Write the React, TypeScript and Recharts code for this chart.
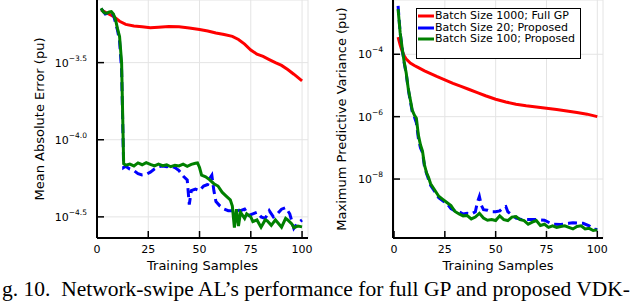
import React from "react";
import { LineChart, Line, XAxis, YAxis, CartesianGrid } from "recharts";

// All y values are log10 of the metric (plot uses a log axis in the paper)

// ─── Mean absolute error ────────────────────────────────────────────────────

const maeFullGpX = [2, 5, 8, 11, 14, 18, 22, 26, 30, 35, 40, 45, 50, 54, 58, 62, 66, 69, 72, 75, 78, 81, 84, 87, 90, 93, 96, 100];
const maeFullGp = [-3.158, -3.18, -3.2, -3.232, -3.252, -3.262, -3.268, -3.274, -3.27, -3.266, -3.268, -3.275, -3.285, -3.295, -3.308, -3.318, -3.33, -3.35, -3.38, -3.418, -3.445, -3.46, -3.48, -3.5, -3.518, -3.545, -3.575, -3.618];

const maeB20X = [2, 4, 6, 8, 10, 11, 12, 13, 14, 16, 18, 20, 22, 24, 26, 28, 30, 32, 34, 36, 38, 40, 42, 44, 45, 46, 48, 50, 52, 54, 55, 56, 57, 58, 60, 62, 64, 66, 68, 70, 72, 74, 76, 78, 80, 82, 84, 86, 88, 90, 92, 94, 96, 98, 100];
const maeB20 = [-3.15, -3.185, -3.175, -3.19, -3.29, -3.36, -3.55, -4.18, -4.172, -4.19, -4.2, -4.22, -4.228, -4.225, -4.21, -4.19, -4.175, -4.17, -4.175, -4.17, -4.18, -4.2, -4.235, -4.26, -4.42, -4.33, -4.32, -4.33, -4.3, -4.29, -4.25, -4.23, -4.33, -4.4, -4.43, -4.45, -4.46, -4.46, -4.455, -4.46, -4.45, -4.49, -4.48, -4.47, -4.5, -4.51, -4.46, -4.5, -4.48, -4.45, -4.44, -4.48, -4.575, -4.54, -4.52];

const maeB100X = [2, 3, 4, 5, 6, 7, 8, 9, 10, 11, 12, 13, 14, 16, 18, 20, 22, 24, 26, 28, 30, 32, 34, 36, 38, 40, 42, 44, 46, 48, 49, 50, 51, 53, 55, 57, 59, 61, 63, 65, 66, 67, 68, 69, 70, 71, 72, 73, 75, 76, 78, 80, 82, 83, 85, 87, 88, 90, 92, 93, 95, 96, 98, 100];
const maeB100 = [-3.147, -3.17, -3.18, -3.178, -3.172, -3.17, -3.185, -3.22, -3.28, -3.33, -3.5, -4.155, -4.165, -4.158, -4.17, -4.15, -4.162, -4.148, -4.16, -4.17, -4.158, -4.168, -4.162, -4.175, -4.165, -4.17, -4.158, -4.172, -4.16, -4.152, -4.15, -4.18, -4.23, -4.24, -4.26, -4.285, -4.3, -4.34, -4.365, -4.39, -4.43, -4.57, -4.45, -4.56, -4.47, -4.49, -4.51, -4.48, -4.5, -4.53, -4.52, -4.567, -4.52, -4.525, -4.555, -4.52, -4.535, -4.567, -4.51, -4.52, -4.545, -4.57, -4.56, -4.565];

// ─── Maximum predictive variance ────────────────────────────────────────────

const varFullGpX = [2, 3, 4, 5, 6, 8, 10, 12, 15, 18, 21, 25, 29, 33, 37, 41, 45, 50, 55, 60, 65, 70, 75, 80, 85, 90, 95, 100];
const varFullGp = [-3.45, -3.7, -3.9, -4.05, -4.15, -4.28, -4.36, -4.43, -4.53, -4.62, -4.71, -4.82, -4.93, -5.03, -5.13, -5.23, -5.33, -5.44, -5.53, -5.6, -5.65, -5.69, -5.73, -5.77, -5.82, -5.87, -5.92, -6.0];

const varB20X = [2, 3, 4, 5, 6, 7, 8, 9, 10, 11, 12, 13, 14, 15, 16, 18, 20, 22, 24, 26, 28, 30, 32, 34, 36, 38, 40, 41, 42, 43, 44, 46, 48, 50, 52, 54, 55, 56, 58, 60, 63, 66, 70, 74, 78, 82, 86, 88, 90, 93, 96, 98, 100];
const varB20 = [-2.45, -3.3, -3.82, -4.27, -4.62, -5.12, -5.5, -5.85, -6.0, -6.2, -6.7, -7.0, -7.15, -7.6, -7.82, -8.2, -8.4, -8.6, -8.7, -8.78, -8.95, -9.02, -9.05, -9.12, -9.1, -9.12, -9.05, -8.75, -8.56, -8.85, -8.98, -9.0, -9.05, -9.05, -9.02, -8.9, -8.88, -9.05, -9.15, -9.25, -9.3, -9.3, -9.3, -9.32, -9.45, -9.46, -9.42, -9.4, -9.41, -9.42, -9.5, -9.6, -9.62];

const varB100X = [2, 3, 4, 5, 6, 7, 8, 9, 10, 11, 12, 13, 14, 15, 16, 17, 18, 20, 22, 24, 26, 28, 30, 32, 34, 36, 38, 40, 42, 44, 46, 48, 50, 52, 54, 56, 58, 60, 62, 64, 66, 68, 70, 72, 74, 76, 78, 80, 82, 84, 86, 88, 90, 92, 94, 96, 98, 100];
const varB100 = [-2.55, -3.3, -3.8, -4.25, -4.6, -5.1, -5.45, -5.8, -5.95, -6.05, -6.6, -6.9, -7.1, -7.55, -7.8, -7.95, -8.15, -8.35, -8.55, -8.65, -8.75, -8.85, -9.04, -9.12, -9.18, -9.17, -9.28, -9.22, -9.1, -9.25, -9.32, -9.3, -9.33, -9.18, -9.3, -9.33, -9.22, -9.2, -9.3, -9.33, -9.45, -9.38, -9.33, -9.49, -9.45, -9.55, -9.5, -9.55, -9.52, -9.5, -9.55, -9.6, -9.52, -9.5, -9.6, -9.58, -9.65, -9.63];

const xTicks = [0, 25, 50, 75, 100];
const maeTicks = [-4.5, -4.0, -3.5];
const varTicks = [-8, -6, -4];

const seriesNames = ["Batch Size 1000; Full GP", "Batch Size 20; Proposed", "Batch Size 100; Proposed"];
const colors = ["#ff0000", "#0000ff", "#008000"];

const zip = (xs: number[], ys: number[]) => xs.map((x, i) => ({ x, y: ys[i] }));

const FONT = "'DejaVu Sans', sans-serif";

function XTick({ x, y, payload }: any) {
  return (
    <g>
      <line x1={x} y1={y} x2={x} y2={y - 7} stroke="#000" strokeWidth={1.5} />
      <text x={x} y={y + 15} textAnchor="middle" fontSize={11} fontFamily={FONT} fill="#000">
        {payload.value}
      </text>
    </g>
  );
}

function makeYTick(decimals: number) {
  return function YTick({ x, y, payload }: any) {
    const exp = payload.value.toFixed(decimals).replace("-", "\u2212");
    return (
      <g>
        <line x1={x} y1={y} x2={x + 7} y2={y} stroke="#000" strokeWidth={1.5} />
        <text x={x - 10} y={y + 4} textAnchor="end" fontFamily={FONT} fill="#000">
          <tspan fontSize={11}>10</tspan>
          <tspan fontSize={7.5} dy={-6}>{exp}</tspan>
        </text>
      </g>
    );
  };
}

const MaeTick = makeYTick(1);
const VarTick = makeYTick(0);

interface PanelProps {
  left: number;
  yAxisWidth: number;
  rightMargin: number;
  xDomain: [number, number];
  yDomain: [number, number];
  yTicks: number[];
  tick: any;
  series: { x: number; y: number }[][];
}

function Panel({ left, yAxisWidth, rightMargin, xDomain, yDomain, yTicks, tick, series }: PanelProps) {
  return (
    <div style={{ position: "absolute", left, top: 0 }}>
      <LineChart width={320} height={275} margin={{ top: 0, right: rightMargin, bottom: 7, left: 0 }}>
        <CartesianGrid stroke="#e4e4e4" strokeWidth={1} />
        <XAxis
          type="number"
          dataKey="x"
          domain={xDomain}
          ticks={xTicks}
          allowDataOverflow
          height={30}
          tickSize={0}
          tickMargin={0}
          tickLine={false}
          axisLine={{ stroke: "#000", strokeWidth: 2 }}
          tick={<XTick />}
        />
        <YAxis
          type="number"
          dataKey="y"
          domain={yDomain}
          ticks={yTicks}
          allowDataOverflow
          width={yAxisWidth}
          tickSize={0}
          tickMargin={0}
          tickLine={false}
          axisLine={{ stroke: "#000", strokeWidth: 2 }}
          tick={tick}
        />
        {series.map((d, i) => (
          <Line
            key={i}
            data={d}
            dataKey="y"
            type="linear"
            stroke={colors[i]}
            strokeWidth={3}
            strokeDasharray={i === 1 ? "9 5" : undefined}
            dot={false}
            activeDot={false}
            isAnimationActive={false}
          />
        ))}
      </LineChart>
    </div>
  );
}

function RotatedTitle({ cx, cy, text }: { cx: number; cy: number; text: string }) {
  return (
    <div
      style={{
        position: "absolute",
        left: cx - 150,
        top: cy - 10,
        width: 300,
        height: 20,
        lineHeight: "20px",
        textAlign: "center",
        transform: "rotate(-90deg)",
        fontFamily: FONT,
        fontSize: 13,
        whiteSpace: "nowrap",
      }}
    >
      {text}
    </div>
  );
}

function XTitle({ cx }: { cx: number }) {
  return (
    <div
      style={{
        position: "absolute",
        left: cx - 100,
        top: 256,
        width: 200,
        height: 20,
        lineHeight: "20px",
        textAlign: "center",
        fontFamily: FONT,
        fontSize: 13,
      }}
    >
      Training Samples
    </div>
  );
}

function LegendBox() {
  return (
    <div
      style={{
        position: "absolute",
        left: 416,
        top: 8,
        width: 163,
        height: 49,
        border: "1.5px solid #000",
        background: "#fff",
        fontFamily: FONT,
        fontSize: 11,
      }}
    >
      {seriesNames.map((name, i) => (
        <div key={name} style={{ position: "absolute", left: 1, top: 1 + i * 11.7, height: 12, lineHeight: "12px", whiteSpace: "nowrap" }}>
          <svg width={16} height={12} style={{ verticalAlign: "top" }}>
            <line x1={0} y1={6} x2={16} y2={6} stroke={colors[i]} strokeWidth={3} />
          </svg>
          <span style={{ marginLeft: 1 }}>{name}</span>
        </div>
      ))}
    </div>
  );
}

export default function App() {
  return (
    <div style={{ position: "absolute", left: 0, top: 0, width: 640, height: 305, overflow: "hidden", background: "#fff" }}>
      <Panel
        left={0}
        yAxisWidth={97}
        rightMargin={12}
        xDomain={[0, 102.9]}
        yDomain={[-4.637, -3.094]}
        yTicks={maeTicks}
        tick={<MaeTick />}
        series={[zip(maeFullGpX, maeFullGp), zip(maeB20X, maeB20), zip(maeB100X, maeB100)]}
      />
      <Panel
        left={320}
        yAxisWidth={73}
        rightMargin={37}
        xDomain={[-0.5, 102.8]}
        yDomain={[-9.89, -2.26]}
        yTicks={varTicks}
        tick={<VarTick />}
        series={[zip(varFullGpX, varFullGp), zip(varB20X, varB20), zip(varB100X, varB100)]}
      />
      <RotatedTitle cx={40} cy={119} text="Mean Absolute Error (pu)" />
      <RotatedTitle cx={342} cy={119} text="Maximum Predictive Variance (pu)" />
      <XTitle cx={202.5} />
      <XTitle cx={498} />
      <LegendBox />
      <div
        style={{
          position: "absolute",
          left: 2,
          top: 279,
          height: 22,
          lineHeight: "21.5px",
          fontFamily: "'Liberation Serif', serif",
          fontSize: 21.5,
          whiteSpace: "pre",
        }}
      >
        {"g. 10.  Network-swipe AL\u2019s performance for full GP and proposed VDK-"}
      </div>
    </div>
  );
}
